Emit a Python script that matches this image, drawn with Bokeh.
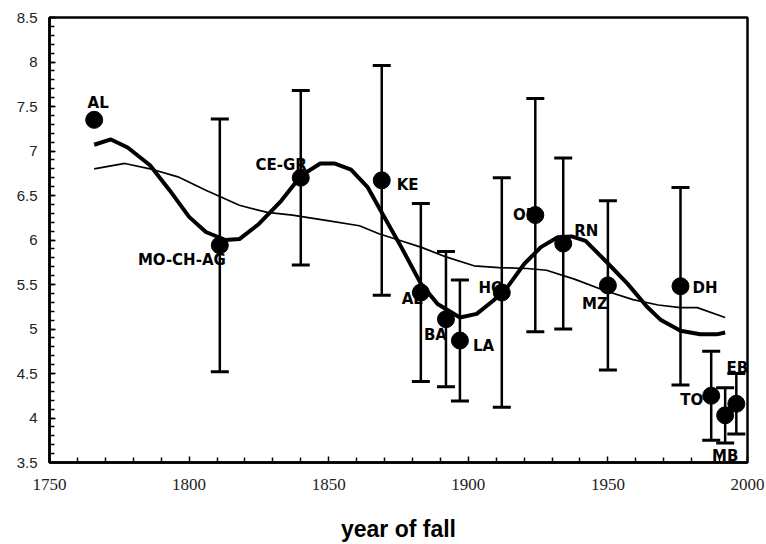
from bokeh.plotting import figure
from bokeh.models import ColumnDataSource, Range1d, FixedTicker
from bokeh.core.properties import value
from bokeh.embed import file_html
from bokeh.resources import INLINE

# Individual events: year of fall, value and half-width of the error bar
names = ["AL", "MO-CH-AG", "CE-GR", "KE", "AL", "BA", "LA", "HO", "OL", "RN",
         "MZ", "DH", "TO", "MB", "EB"]
years = [1766, 1811, 1840, 1869, 1883, 1892, 1897, 1912, 1924, 1934,
         1950, 1976, 1987, 1992, 1996]
values = [7.35, 5.94, 6.70, 6.67, 5.41, 5.11, 4.87, 5.41, 6.28, 5.96,
          5.49, 5.48, 4.25, 4.03, 4.16]
errors = [0.0, 1.42, 0.98, 1.29, 1.00, 0.76, 0.68, 1.29, 1.31, 0.96,
          0.95, 1.11, 0.50, 0.31, 0.34]

# Smoothed trend (heavy line)
smooth_years = [1766, 1772, 1778, 1786, 1793, 1800, 1806, 1813, 1818, 1825,
                1833, 1840, 1847, 1852, 1858, 1864, 1869, 1876, 1883, 1889,
                1897, 1903, 1909, 1914, 1920, 1926, 1932, 1937, 1942, 1949,
                1957, 1964, 1969, 1976, 1983, 1989, 1992]
smooth_values = [7.07, 7.13, 7.04, 6.84, 6.56, 6.26, 6.09, 6.00, 6.01, 6.18,
                 6.44, 6.72, 6.86, 6.86, 6.79, 6.59, 6.31, 5.92, 5.51, 5.28,
                 5.13, 5.17, 5.32, 5.47, 5.73, 5.92, 6.03, 6.04, 5.99, 5.77,
                 5.51, 5.25, 5.10, 4.98, 4.94, 4.94, 4.96]

# Long-term running mean (thin line)
mean_years = [1766, 1777, 1786, 1796, 1806, 1818, 1828, 1837, 1849, 1861,
              1868, 1875, 1883, 1892, 1902, 1911, 1921, 1928, 1938, 1949,
              1959, 1968, 1976, 1982, 1992]
mean_values = [6.80, 6.86, 6.80, 6.71, 6.56, 6.39, 6.31, 6.28, 6.22, 6.16,
               6.07, 6.00, 5.92, 5.81, 5.71, 5.69, 5.68, 5.66, 5.56, 5.43,
               5.33, 5.27, 5.24, 5.24, 5.13]

# Axis ticks
x_ticks = [1750, 1800, 1850, 1900, 1950, 2000]
x_tick_labels = ["1750", "1800", "1850", "1900", "1950", "2000"]
y_ticks = [3.5, 4, 4.5, 5, 5.5, 6, 6.5, 7, 7.5, 8, 8.5]
y_tick_labels = ["3.5", "4", "4.5", "5", "5.5", "6", "6.5", "7", "7.5", "8", "8.5"]

# Label placement around each point (pixels; +dy is downwards)
label_align = ["center", "right", "right", "left", "right", "right", "left",
               "right", "right", "left", "right", "left", "right", "center", "center"]
label_dx = [4, 6, 6, 15, 2, 1, 13, 2, 0, 11, 0, 12, -8, 0, 1]
label_dy = [-17, 15, -13, 5, 6, 16, 5, -5, 0, -13, 19, 2, 4, 41, -36]

pts = ColumnDataSource(dict(x=years, y=values, name=names,
                            align=label_align, dx=label_dx, dy=label_dy))

bar_idx = [i for i, e in enumerate(errors) if e > 0]
bars = ColumnDataSource(dict(
    x=[years[i] for i in bar_idx],
    lo=[values[i] - errors[i] for i in bar_idx],
    hi=[values[i] + errors[i] for i in bar_idx],
))

p = figure(width=766, height=544, output_backend="svg", toolbar_location=None,
           x_range=Range1d(1750, 2000), y_range=Range1d(3.5, 8.5),
           min_border_left=49, min_border_right=19, min_border_top=17,
           min_border_bottom=82)
p.background_fill_color = "white"
p.border_fill_color = "white"
p.outline_line_color = "black"
p.outline_line_width = 2.5
p.grid.visible = False

minor_x = [v for v in range(1750, 2001, 10) if v % 50 != 0]
minor_y = [round(3.5 + 0.1 * k, 1) for k in range(51)]
p.xaxis.ticker = FixedTicker(ticks=x_ticks, minor_ticks=minor_x)
p.yaxis.ticker = FixedTicker(ticks=y_ticks, minor_ticks=minor_y)
p.xaxis.major_label_overrides = dict(zip(x_ticks, x_tick_labels))
p.yaxis.major_label_overrides = {(int(t) if float(t).is_integer() else t): s
                                 for t, s in zip(y_ticks, y_tick_labels)}

for ax in (p.xaxis, p.yaxis):
    ax.axis_line_color = "black"
    ax.axis_line_width = 2.5
    ax.major_tick_in = 6
    ax.major_tick_out = 0
    ax.minor_tick_in = 5
    ax.minor_tick_out = 0
    ax.major_tick_line_width = 1.5
    ax.minor_tick_line_width = 1.5
    ax.major_tick_line_color = "black"
    ax.minor_tick_line_color = "black"
    ax.major_label_text_color = "#222222"

p.yaxis.major_label_text_font = "Liberation Sans"
p.yaxis.major_label_text_font_size = "15px"
p.yaxis.major_label_standoff = 12

p.xaxis.major_label_text_font = "Liberation Sans Narrow"
p.xaxis.major_label_text_font_size = "17px"
p.xaxis.major_label_standoff = 16

p.xaxis.axis_label = "year of fall"
p.xaxis.axis_label_text_font = "Liberation Sans"
p.xaxis.axis_label_text_font_style = "bold"
p.xaxis.axis_label_text_font_size = "23px"
p.xaxis.axis_label_text_color = "black"
p.xaxis.axis_label_standoff = 23

# Point labels (drawn first so bars and dots sit on top of them)
p.text(x="x", y="y", text="name", source=pts, x_offset="dx", y_offset="dy",
       text_align="align", text_baseline="middle",
       text_font=value("DejaVu Sans"), text_font_style="bold",
       text_font_size="15px", text_color="black")

# Error bars with caps
p.segment(x0="x", y0="lo", x1="x", y1="hi", source=bars,
          line_color="black", line_width=2.5)
p.scatter(x="x", y="lo", source=bars, marker="dash", size=18,
          line_color="black", line_width=3)
p.scatter(x="x", y="hi", source=bars, marker="dash", size=18,
          line_color="black", line_width=3)

# Trend lines
p.line(mean_years, mean_values, line_color="black", line_width=1.7)
p.line(smooth_years, smooth_values, line_color="black", line_width=4,
       line_join="round")

# Data points
p.scatter(x="x", y="y", source=pts, size=17, fill_color="black",
          line_color="black")

open("out.html", "w").write(file_html(p, INLINE))
